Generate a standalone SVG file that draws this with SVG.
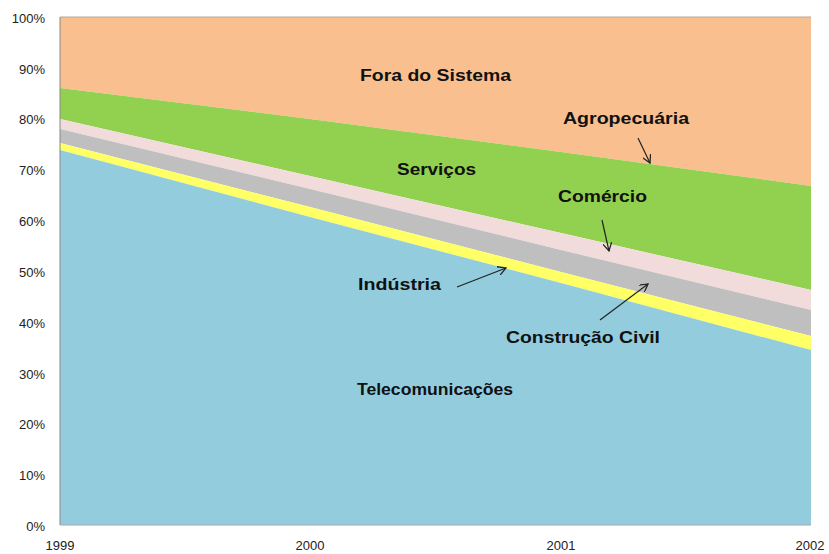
<svg xmlns="http://www.w3.org/2000/svg" width="829" height="554" viewBox="0 0 829 554">
<style>
.ax{font-family:"Liberation Sans",Arial,sans-serif;font-size:13px;fill:#222}
.lb{font-family:"Liberation Sans",Arial,sans-serif;font-size:16px;font-weight:bold;fill:#111}
.arr{stroke:#222;stroke-width:1.2;fill:none;marker-end:url(#ah)}
</style>
<defs>
<marker id="ah" viewBox="0 0 10 10" refX="9" refY="5" markerWidth="9" markerHeight="9" markerUnits="userSpaceOnUse" orient="auto">
<path d="M0,0 L9,5 L0,10" fill="none" stroke="#222" stroke-width="1.4"/>
</marker>
</defs>
<rect width="829" height="554" fill="#fff"/>
<g id="areas">
<polygon id="fora" points="60,17 811,17 811,186 561,152 310,119 60,88" fill="#F9BF8F"/>
<polygon id="servicos" points="60,88 310,119 561,152 811,186 811,290 561,233 310,176 60,119" fill="#92D050"/>
<polygon id="agro" points="60,119 310,176 561,233 811,290 811,310 561,250 310,189 60,129" fill="#F2DCDB"/>
<polygon id="comercio" points="60,129 310,189 561,250 811,310 811,336 561,272 310,207 60,143" fill="#BFBFBF"/>
<polygon id="industria" points="60,143 310,207 561,272 811,336 811,350 561,283 310,217 60,150" fill="#FFFF66"/>
<polygon id="telecom" points="60,150 310,217 561,283 811,350 811,525 60,525" fill="#93CDDD"/>
</g>
<g id="axes">
<line x1="60" y1="17" x2="811" y2="17" stroke="#b8a898" stroke-width="1"/>
<line x1="60" y1="17" x2="60" y2="525" stroke="#888" stroke-width="1"/>
<line x1="60" y1="525" x2="811" y2="525" stroke="#aaa" stroke-width="1.2"/>
</g>
<g id="yaxis" class="ax" text-anchor="end">
<text x="45" y="23">100%</text>
<text x="45" y="74">90%</text>
<text x="45" y="124">80%</text>
<text x="45" y="175">70%</text>
<text x="45" y="226">60%</text>
<text x="45" y="277">50%</text>
<text x="45" y="328">40%</text>
<text x="45" y="379">30%</text>
<text x="45" y="429">20%</text>
<text x="45" y="480">10%</text>
<text x="45" y="531">0%</text>
</g>
<g id="xaxis" class="ax" text-anchor="middle">
<text x="60" y="550">1999</text>
<text x="310" y="550">2000</text>
<text x="561" y="550">2001</text>
<text x="810" y="550">2002</text>
</g>
<g id="labels" class="lb">
<text id="l-fora" x="360" y="81" textLength="151" lengthAdjust="spacingAndGlyphs">Fora do Sistema</text>
<text id="l-agro" x="563" y="124" textLength="126" lengthAdjust="spacingAndGlyphs">Agropecuária</text>
<text id="l-serv" x="397" y="175" textLength="79" lengthAdjust="spacingAndGlyphs">Serviços</text>
<text id="l-com" x="558" y="202" textLength="89" lengthAdjust="spacingAndGlyphs">Comércio</text>
<text id="l-ind" x="358" y="290" textLength="83" lengthAdjust="spacingAndGlyphs">Indústria</text>
<text id="l-cons" x="506" y="343" textLength="154" lengthAdjust="spacingAndGlyphs">Construção Civil</text>
<text id="l-tel" x="357" y="395" textLength="156" lengthAdjust="spacingAndGlyphs">Telecomunicações</text>
</g>
<g id="connectors">
<line class="arr" x1="638" y1="138" x2="650" y2="163"/>
<line class="arr" x1="602" y1="220" x2="609" y2="251"/>
<line class="arr" x1="457" y1="287" x2="506" y2="268"/>
<line class="arr" x1="600" y1="320" x2="648" y2="284"/>
</g>
</svg>
